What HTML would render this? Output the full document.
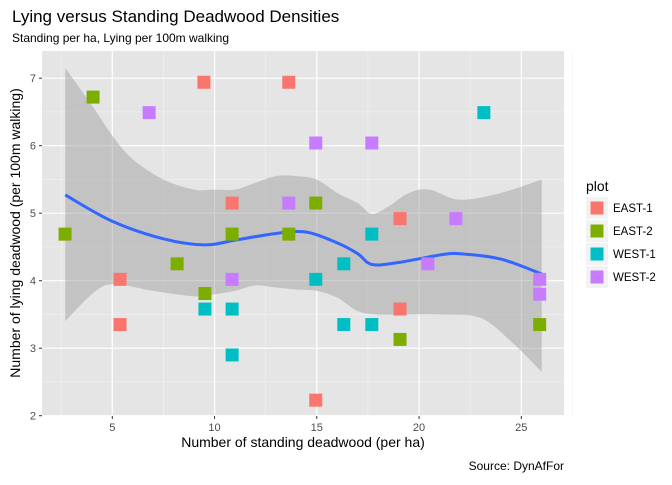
<!DOCTYPE html>
<html><head><meta charset="utf-8"><style>
body{margin:0;background:#fff;font-family:"Liberation Sans",sans-serif}
</style></head><body>
<svg id="chart" width="672" height="480" xmlns="http://www.w3.org/2000/svg" font-family="Liberation Sans, sans-serif">
<text x="12" y="22" font-size="17" fill="#000">Lying versus Standing Deadwood Densities</text>
<text x="12" y="42" font-size="12" fill="#000">Standing per ha, Lying per 100m walking</text>
<rect x="42" y="51" width="522" height="365" fill="#e5e5e5"/>
<g id="grid"></g>
<path id="ribbon" fill="#999" fill-opacity="0.45"/>
<path id="smooth" fill="none" stroke="#3366ff" stroke-width="3"/>
<g id="points"></g>
<g id="axes"></g>
<text x="303" y="447" font-size="14" text-anchor="middle">Number of standing deadwood (per ha)</text>
<text transform="translate(20,233) rotate(-90)" font-size="14" text-anchor="middle">Number of lying deadwood (per 100m walking)</text>
<text x="564" y="470" font-size="12" text-anchor="end">Source: DynAfFor</text>
<g id="legend">
<text x="586" y="191" font-size="14">plot</text>
</g>
</svg>
<script>
const groups=["EAST-1","EAST-2","WEST-1","WEST-2"];
const colors=["#f8766d","#7cae00","#00bfc4","#c77cff"];
const xTicks=[5,10,15,20,25];
const yTicks=[2,3,4,5,6,7];
const east1X=[9.48,13.63,10.86,5.38,5.38,19.07,19.07,14.95];
const east1Y=[6.94,6.94,5.15,4.02,3.35,4.92,3.58,2.23];
const east2X=[4.06,2.69,8.17,9.53,10.86,13.63,14.95,19.07,25.9];
const east2Y=[6.72,4.69,4.25,3.81,4.69,4.69,5.15,3.13,3.35];
const west1X=[9.53,10.86,10.86,14.95,16.32,16.32,17.69,17.69,23.17];
const west1Y=[3.58,3.58,2.90,4.02,4.25,3.35,4.69,3.35,6.49];
const west2X=[6.8,10.86,13.63,14.95,17.69,20.43,21.8,25.9,25.9];
const west2Y=[6.49,4.02,5.15,6.04,6.04,4.25,4.92,4.02,3.8];
const smoothX=[2.7,5,7.5,9.5,11,13,14.5,16,17,17.7,19,21,22,24,26];
const smoothY=[5.27,4.88,4.62,4.53,4.6,4.7,4.72,4.56,4.4,4.24,4.27,4.38,4.4,4.32,4.1];
const upperX=[2.7,4,5,6,7.5,9,10,11,12,13,14,15,16,17,17.7,18.5,19.5,20.5,22,24,26];
const upperY=[7.15,6.6,6.15,5.8,5.5,5.35,5.35,5.35,5.45,5.55,5.55,5.5,5.3,5.15,4.99,5.1,5.3,5.35,5.2,5.3,5.5];
const lowerX=[2.7,4,5,7,9,10,11,12,13,14,15,16,17,18,19,21,23,24.5,26];
const lowerY=[3.4,3.8,3.95,3.85,3.77,3.8,3.85,3.93,3.9,3.87,3.85,3.75,3.55,3.5,3.5,3.5,3.45,3.1,2.65];

const NS="http://www.w3.org/2000/svg";
const X=v=>112.3+(v-5)*20.45;
const Y=v=>415.7-(v-2)*67.5;
function mk(tag,attrs,parent){const e=document.createElementNS(NS,tag);for(const k in attrs)e.setAttribute(k,attrs[k]);parent.appendChild(e);return e;}
function curve(p,start){let d=start?'M'+p[0][0]+','+p[0][1]:'L'+p[0][0]+','+p[0][1];
for(let i=0;i<p.length-1;i++){const p0=p[i-1]||p[i],p1=p[i],p2=p[i+1],p3=p[i+2]||p2;
d+='C'+(p1[0]+(p2[0]-p0[0])/6)+','+(p1[1]+(p2[1]-p0[1])/6)+' '+(p2[0]-(p3[0]-p1[0])/6)+','+(p2[1]-(p3[1]-p1[1])/6)+' '+p2[0]+','+p2[1];}
return d;}
const grid=document.getElementById('grid'),axes=document.getElementById('axes');
for(let v=2.5;v<=27.5;v+=5){const l=mk('line',{x1:X(v),x2:X(v),y1:51,y2:416,stroke:'#f2f2f2','stroke-width':0.6},grid);

}
for(let v=2.5;v<7.5;v+=1){const l=mk('line',{x1:42,x2:564,y1:Y(v),y2:Y(v),stroke:'#f2f2f2','stroke-width':0.6},grid);

}
xTicks.forEach(v=>{const l=mk('line',{x1:X(v),x2:X(v),y1:51,y2:416,stroke:'#fff','stroke-width':1.2},grid);


mk('line',{x1:X(v),x2:X(v),y1:416,y2:419,stroke:'#333'},axes);
const t=mk('text',{x:X(v),y:431,'font-size':11,fill:'#4d4d4d','text-anchor':'middle'},axes);t.textContent=v;

});
yTicks.forEach(v=>{const l=mk('line',{x1:42,x2:564,y1:Y(v),y2:Y(v),stroke:'#fff','stroke-width':1.2},grid);


mk('line',{x1:39,x2:42,y1:Y(v),y2:Y(v),stroke:'#333'},axes);
const t=mk('text',{x:36,y:Y(v)+4,'font-size':11,fill:'#4d4d4d','text-anchor':'end'},axes);t.textContent=v;

});
const up=upperX.map((x,i)=>[X(x),Y(upperY[i])]);
const lo=lowerX.map((x,i)=>[X(x),Y(lowerY[i])]).reverse();
document.getElementById('ribbon').setAttribute('d',curve(up,true)+curve(lo,false)+'Z');
document.getElementById('smooth').setAttribute('d',curve(smoothX.map((x,i)=>[X(x),Y(smoothY[i])]),true));
const pts=document.getElementById('points');
[[east1X,east1Y],[east2X,east2Y],[west1X,west1Y],[west2X,west2Y]].forEach((s,g)=>{
s[0].forEach((x,i)=>{const r=mk('rect',{x:X(x)-6.5,y:Y(s[1][i])-6.5,width:13,height:13,fill:colors[g]},pts);

});});
const lg=document.getElementById('legend');
groups.forEach((g,i)=>{const cy=208+i*23;
const bg=mk('rect',{x:586,y:cy-11,width:22,height:22,fill:'#f2f2f2'},lg);


const r=mk('rect',{x:590.5,y:cy-6.5,width:13,height:13,fill:colors[i]},lg);


const t=mk('text',{x:613,y:cy+4,'font-size':11.5},lg);t.textContent=g;

});
</script>
</body></html>
